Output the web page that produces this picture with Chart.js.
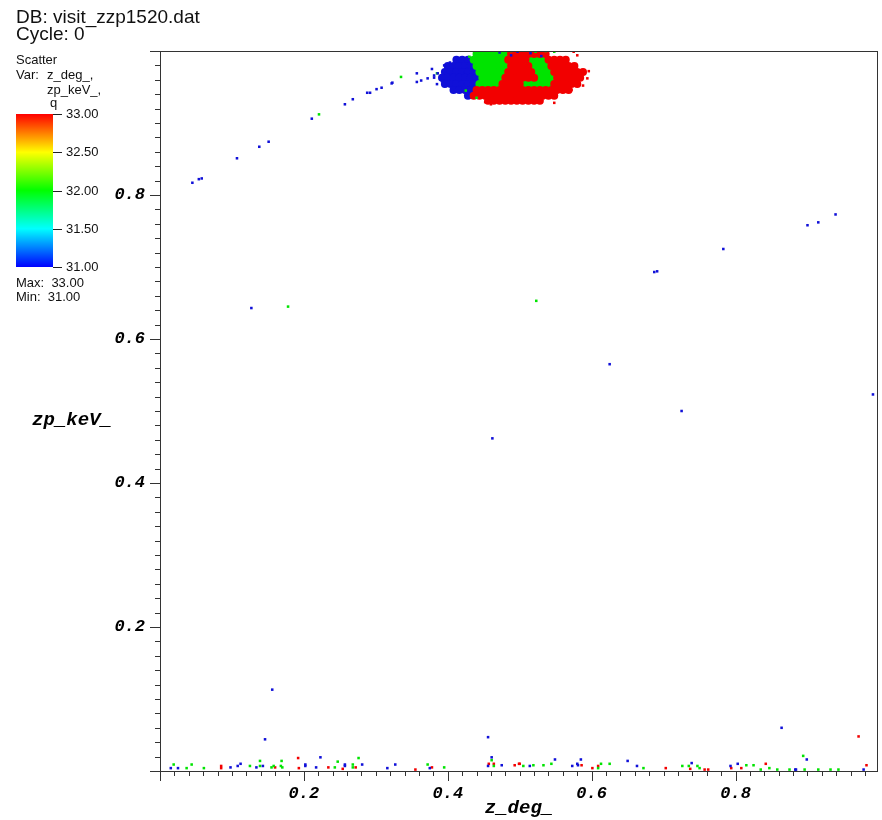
<!DOCTYPE html>
<html>
<head>
<meta charset="utf-8">
<script src="https://cdn.jsdelivr.net/npm/chart.js@4.4.1/dist/chart.umd.min.js"></script>
<style>
  body { margin: 0; background: #fff; }
  #wrap { position: relative; width: 882px; height: 820px; }
  .txt { position: absolute; font-family: "Liberation Sans", Arial, sans-serif; color: #111; white-space: pre; }
  .title { left: 16px; font-size: 19px; line-height: 17px; }
  .small { font-size: 13px; line-height: 14px; }
  #bar { position: absolute; left: 16px; top: 114px; width: 37px; height: 153px;
         background: linear-gradient(to bottom, #ff0000, #ffff00 25%, #00ff00 50%, #00ffff 75%, #0000ff); }
  .tk { position: absolute; left: 53px; width: 9px; height: 1px; background: #222; }
</style>
</head>
<body>
<div id="wrap">
  <canvas id="plot" width="882" height="820"></canvas>
  <div class="txt title" style="top:8px">DB: visit_zzp1520.dat</div>
  <div class="txt title" style="top:25px">Cycle: 0</div>
  <div class="txt small" style="left:16px; top:53px">Scatter</div>
  <div class="txt small" style="left:16px; top:68px">Var:</div>
  <div class="txt small" style="left:47px; top:68px">z_deg_,</div>
  <div class="txt small" style="left:47px; top:83px">zp_keV_,</div>
  <div class="txt small" style="left:50px; top:96px">q</div>
  <div id="bar"></div>
  <div id="barLabels"></div>
  <div class="txt small" style="left:16px; top:276px">Max:  33.00</div>
  <div class="txt small" style="left:16px; top:290px">Min:  31.00</div>
</div>

<script>
// ===============================
// DATA
// ===============================
const xTickLabels = [0.2, 0.4, 0.6, 0.8];
const yTickLabels = [0.2, 0.4, 0.6, 0.8];
const colorbarLabels = ["33.00", "32.50", "32.00", "31.50", "31.00"];

// isolated points, q = 31 (blue)
const blueX = [0.045,0.054,0.058,0.107,0.138,0.151,0.211,0.257,0.268,0.288,0.292,0.301,0.308,0.322,0.323,0.357,0.357,0.363,0.381,0.381,0.385,0.386,0.395,0.403,
  0.127,0.462,0.939,0.915,0.900,0.783,0.687,0.691,0.625,0.725,0.991,0.156,0.864,
  0.015,0.025,0.098,0.108,0.112,0.134,0.143,0.146,0.202,0.202,0.217,0.223,0.257,0.257,0.281,0.316,0.327,0.375,0.456,0.456,0.461,0.475,0.514,0.549,0.573,0.580,0.581,0.585,0.650,0.663,0.739,0.793,0.803,0.883,0.884,0.899,0.978,
  0.472,0.497,0.515,0.378,0.372,0.392,0.488,0.530];
const blueY = [0.817,0.822,0.823,0.851,0.867,0.874,0.906,0.926,0.933,0.942,0.942,0.947,0.949,0.955,0.956,0.969,0.957,0.959,0.966,0.963,0.954,0.969,0.980,0.984,
  0.643,0.462,0.773,0.762,0.758,0.725,0.693,0.694,0.565,0.500,0.523,0.113,0.060,
  0.004,0.004,0.005,0.007,0.010,0.005,0.007,0.044,0.009,0.007,0.005,0.019,0.009,0.007,0.009,0.004,0.009,0.004,0.047,0.007,0.019,0.008,0.007,0.016,0.007,0.010,0.008,0.016,0.014,0.007,0.011,0.007,0.010,0.002,0.002,0.016,0.002,
  0.998,0.999,0.997,0.975,0.962,0.958,0.994,0.993];

// isolated points, q = 32 (green)
const greenX = [0.221,0.335,0.385,0.178,0.523,
  0.019,0.037,0.044,0.061,0.125,0.139,0.139,0.155,0.158,0.168,0.169,0.170,0.243,0.247,0.268,0.268,0.276,0.372,0.395,0.461,0.464,0.505,0.519,0.533,0.544,0.609,0.613,0.625,0.672,0.726,0.735,0.747,0.750,0.815,0.825,0.835,0.847,0.858,0.875,0.894,0.896,0.915,0.932,0.943,
  0.452,0.488,0.522,0.536,0.430,0.440,0.548,0.425];
const greenY = [0.912,0.964,0.969,0.645,0.653,
  0.009,0.004,0.009,0.004,0.007,0.007,0.014,0.005,0.007,0.007,0.014,0.005,0.005,0.013,0.009,0.005,0.018,0.009,0.005,0.015,0.007,0.007,0.008,0.008,0.010,0.004,0.010,0.010,0.004,0.007,0.007,0.007,0.004,0.008,0.008,0.002,0.004,0.002,0.002,0.021,0.002,0.002,0.002,0.002,
  1.000,1.000,0.999,1.000,0.992,0.935,0.999,0.945];

// isolated points, q = 33 (red)
const redX = [0.971,0.085,0.085,0.160,0.192,0.193,0.234,0.254,0.272,0.355,0.378,0.457,0.464,0.493,0.499,0.500,0.586,0.601,0.609,0.703,0.737,0.757,0.762,0.794,0.808,0.842,0.982,
  0.596,0.594,0.588,0.452,0.460,0.548,0.580,0.572,0.575];
const redY = [0.048,0.007,0.004,0.005,0.018,0.004,0.005,0.003,0.005,0.002,0.005,0.010,0.010,0.008,0.010,0.010,0.008,0.004,0.007,0.004,0.003,0.002,0.002,0.004,0.004,0.010,0.008,
  0.972,0.962,0.952,0.929,0.926,0.928,0.994,0.946,0.999];

// dense cluster near the top, sampled row by row
const clusterBlueX = [
  0.412,0.420,0.428,
  0.400,0.408,0.416,0.424,0.432,
  0.396,0.404,0.412,0.420,0.428,0.436,
  0.392,0.400,0.408,0.416,0.424,0.432,0.440,
  0.396,0.404,0.412,0.420,0.428,0.436,
  0.408,0.416,0.424,0.432,
  0.428];
const clusterBlueY = [
  0.988,0.988,0.988,
  0.979,0.979,0.979,0.979,0.979,
  0.971,0.971,0.971,0.971,0.971,0.971,
  0.963,0.963,0.963,0.963,0.963,0.963,0.963,
  0.954,0.954,0.954,0.954,0.954,0.954,
  0.946,0.946,0.946,0.946,
  0.938];

const clusterGreenX = [
  0.440,0.448,0.456,0.464,0.472,0.480,
  0.436,0.444,0.452,0.460,0.468,0.476, 0.516,0.524,0.532,
  0.440,0.448,0.456,0.464,0.472,0.480, 0.520,0.528,0.536,
  0.444,0.452,0.460,0.468,0.476, 0.524,0.532,0.540,
  0.448,0.456,0.464,0.472, 0.528,0.536,0.544,
  0.444,0.452,0.460,0.468, 0.508,0.516,0.524,0.532,0.540];
const clusterGreenY = [
  0.996,0.996,0.996,0.996,0.996,0.996,
  0.988,0.988,0.988,0.988,0.988,0.988, 0.988,0.988,0.988,
  0.979,0.979,0.979,0.979,0.979,0.979, 0.979,0.979,0.979,
  0.971,0.971,0.971,0.971,0.971, 0.971,0.971,0.971,
  0.963,0.963,0.963,0.963, 0.963,0.963,0.963,
  0.954,0.954,0.954,0.954, 0.954,0.954,0.954,0.954,0.954];

const clusterRedX = [
  0.488,0.496,0.504,0.512,0.520,0.528,0.536,
  0.484,0.492,0.500,0.508, 0.540,0.548,0.556,0.564,
  0.488,0.496,0.504,0.512, 0.544,0.552,0.560,0.568,0.576,
  0.484,0.492,0.500,0.508,0.516, 0.548,0.556,0.564,0.572,0.580,0.588,
  0.480,0.488,0.496,0.504,0.512,0.520, 0.552,0.560,0.568,0.576,0.584,
  0.476,0.484,0.492,0.500, 0.548,0.556,0.564,0.572,0.580,
  0.440,0.448,0.456,0.464,0.472,0.480,0.488,0.496,0.504,0.512,0.520,0.528,0.536,0.544,0.552,0.560,0.568,
  0.436,0.444,0.452,0.460,0.468,0.476,0.484,0.492,0.500,0.508,0.516,0.524,0.532,0.540,0.548,
  0.456,0.464,0.472,0.480,0.488,0.496,0.504,0.512,0.520,0.528];
const clusterRedY = [
  0.996,0.996,0.996,0.996,0.996,0.996,0.996,
  0.988,0.988,0.988,0.988, 0.988,0.988,0.988,0.988,
  0.979,0.979,0.979,0.979, 0.979,0.979,0.979,0.979,0.979,
  0.971,0.971,0.971,0.971,0.971, 0.971,0.971,0.971,0.971,0.971,0.971,
  0.963,0.963,0.963,0.963,0.963,0.963, 0.963,0.963,0.963,0.963,0.963,
  0.954,0.954,0.954,0.954, 0.954,0.954,0.954,0.954,0.954,
  0.946,0.946,0.946,0.946,0.946,0.946,0.946,0.946,0.946,0.946,0.946,0.946,0.946,0.946,0.946,0.946,0.946,
  0.938,0.938,0.938,0.938,0.938,0.938,0.938,0.938,0.938,0.938,0.938,0.938,0.938,0.938,0.938,
  0.931,0.931,0.931,0.931,0.931,0.931,0.931,0.931,0.931,0.931];

const BLUE = "#1010d8";
const GREEN = "#00e400";
const RED = "#f20000";

function pts(xs, ys){
  return xs.map((x, i) => ({ x: x, y: ys[i] }));
}

// ===============================
// COLORBAR LABELS
// ===============================
const barTop = 114, barH = 153;
const barLabels = document.getElementById("barLabels");
colorbarLabels.forEach((lab, i) => {
  const y = barTop + Math.round(i * barH / (colorbarLabels.length - 1));
  barLabels.innerHTML += `<div class="tk" style="top:${y}px"></div>` +
    `<div class="txt small" style="left:66px; top:${y - 7}px">${lab}</div>`;
});

// ===============================
// FRAME + TICKS + Y TITLE
// ===============================
const titleFont = "italic bold 19px 'Liberation Mono', 'Courier New', monospace";

const framePlugin = {
  id: "frame",
  afterDraw(chart){
    const ctx = chart.ctx;
    const a = chart.chartArea;
    const xs = chart.scales.x, ys = chart.scales.y;
    ctx.save();
    ctx.strokeStyle = "#333";
    ctx.lineWidth = 1;
    ctx.strokeRect(Math.round(a.left) + 0.5, Math.round(a.top) + 0.5,
                   Math.round(a.right - a.left) - 1, Math.round(a.bottom - a.top));
    ctx.beginPath();
    for(let i = 0; i <= 50; i++){
      const v = i * 0.02;
      const len = i % 10 === 0 ? 10 : 5;
      if(v <= xs.max){
        const px = Math.round(xs.getPixelForValue(v)) + 0.5;
        ctx.moveTo(px, a.bottom);
        ctx.lineTo(px, a.bottom + len);
      }
      if(v <= ys.max){
        const py = Math.round(ys.getPixelForValue(v)) + 0.5;
        ctx.moveTo(a.left, py);
        ctx.lineTo(a.left - len, py);
      }
    }
    ctx.stroke();
    ctx.fillStyle = "#000";
    ctx.font = titleFont;
    ctx.textAlign = "center";
    ctx.textBaseline = "middle";
    ctx.fillText("zp_keV_", 72, (a.top + a.bottom) / 2 + 9);
    ctx.restore();
  }
};

function tickCallback(list){
  return function(v){
    const r = Math.round(v * 10) / 10;
    return list.includes(r) && Math.abs(v - r) < 1e-6 ? r.toFixed(1) : "";
  };
}

// ===============================
// CHART
// ===============================
const dot = { pointStyle: "rect", pointRadius: 1.8, borderWidth: 0, showLine: false };
const blob = { pointStyle: "circle", pointRadius: 4, borderWidth: 0, showLine: false };
const monoFont = (size) => ({ family: "'Liberation Mono', monospace", size: size, weight: "bold", style: "italic" });

new Chart(document.getElementById("plot"), {
  type: "scatter",
  data: {
    datasets: [
      { ...dot, label: "q31", data: pts(blueX, blueY), backgroundColor: BLUE, order: 0 },
      { ...dot, label: "q32", data: pts(greenX, greenY), backgroundColor: GREEN, order: 0 },
      { ...dot, label: "q33", data: pts(redX, redY), backgroundColor: RED, order: 0 },
      { ...blob, label: "c33", data: pts(clusterRedX, clusterRedY), backgroundColor: RED, order: 1 },
      { ...blob, label: "c32", data: pts(clusterGreenX, clusterGreenY), backgroundColor: GREEN, order: 2 },
      { ...blob, label: "c31", data: pts(clusterBlueX, clusterBlueY), backgroundColor: BLUE, order: 3 }
    ]
  },
  options: {
    responsive: false,
    animation: false,
    devicePixelRatio: 1,
    layout: { padding: { top: 51, right: 3, left: 0, bottom: 0 } },
    plugins: { legend: { display: false }, tooltip: { enabled: false } },
    scales: {
      x: {
        type: "linear",
        min: 0,
        max: 0.998,
        afterFit: (s) => { s.height = 49; s.paddingLeft = 0; s.paddingRight = 0; },
        grid: { display: false, drawTicks: false },
        border: { display: false },
        ticks: {
          stepSize: 0.2,
          padding: 13,
          maxRotation: 0,
          autoSkip: false,
          color: "#000",
          font: monoFont(17),
          callback: tickCallback(xTickLabels)
        },
        title: { display: true, text: "z_deg_", color: "#000", padding: 0, font: monoFont(19) }
      },
      y: {
        type: "linear",
        min: 0,
        max: 1.0,
        afterFit: (s) => { s.width = 160; s.paddingTop = 0; s.paddingBottom = 0; },
        grid: { display: false, drawTicks: false },
        border: { display: false },
        ticks: {
          stepSize: 0.2,
          padding: 15,
          autoSkip: false,
          color: "#000",
          font: monoFont(17),
          callback: tickCallback(yTickLabels)
        }
      }
    }
  },
  plugins: [framePlugin]
});
</script>
</body>
</html>
